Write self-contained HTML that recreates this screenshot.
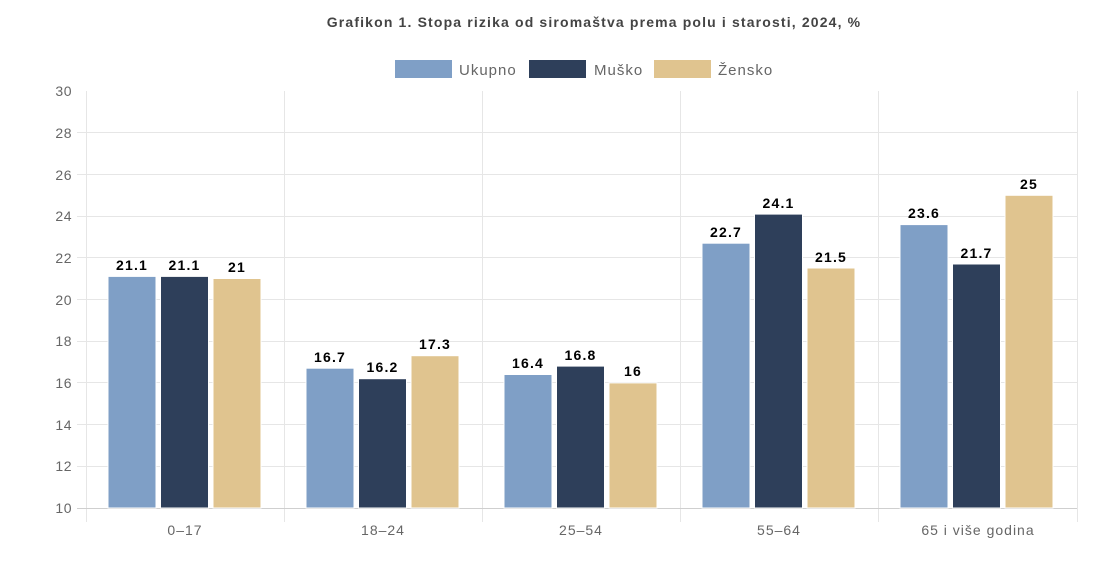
<!DOCTYPE html>
<html><head><meta charset="utf-8"><style>
html,body{margin:0;padding:0;background:#fff;}
svg{display:block;font-family:"Liberation Sans",Arial,sans-serif;}
</style></head><body>
<svg width="1113" height="570" viewBox="0 0 1113 570" xmlns="http://www.w3.org/2000/svg">
<text x="594" y="27" text-anchor="middle" font-size="14" font-weight="bold" fill="#444" letter-spacing="1.15">Grafikon 1. Stopa rizika od siromaštva prema polu i starosti, 2024, %</text>
<rect x="395" y="60" width="57" height="18" fill="#7f9fc6"/>
<text x="459" y="75" font-size="15" fill="#666" letter-spacing="1">Ukupno</text>
<rect x="529" y="60" width="57" height="18" fill="#2e3f5a"/>
<text x="594" y="75" font-size="15" fill="#666" letter-spacing="1">Muško</text>
<rect x="654" y="60" width="57" height="18" fill="#e0c48f"/>
<text x="718" y="75" font-size="15" fill="#666" letter-spacing="1">Žensko</text>
<g stroke="#e6e6e6" stroke-width="1">
<line x1="77" x2="1077" y1="132.5" y2="132.5"/>
<line x1="77" x2="1077" y1="174.5" y2="174.5"/>
<line x1="77" x2="1077" y1="216.5" y2="216.5"/>
<line x1="77" x2="1077" y1="257.5" y2="257.5"/>
<line x1="77" x2="1077" y1="299.5" y2="299.5"/>
<line x1="77" x2="1077" y1="341.5" y2="341.5"/>
<line x1="77" x2="1077" y1="382.5" y2="382.5"/>
<line x1="77" x2="1077" y1="424.5" y2="424.5"/>
<line x1="77" x2="1077" y1="466.5" y2="466.5"/>
<line x1="86.5" x2="86.5" y1="91" y2="522"/>
<line x1="284.5" x2="284.5" y1="91" y2="522"/>
<line x1="482.5" x2="482.5" y1="91" y2="522"/>
<line x1="680.5" x2="680.5" y1="91" y2="522"/>
<line x1="878.5" x2="878.5" y1="91" y2="522"/>
<line x1="1077.5" x2="1077.5" y1="91" y2="522"/>
</g>
<line x1="77" x2="1077" y1="508.5" y2="508.5" stroke="#cfcfcf"/>
<g font-size="14" fill="#666" text-anchor="end" letter-spacing="0.5">
<text x="72" y="96">30</text><text x="72" y="138">28</text><text x="72" y="180">26</text>
<text x="72" y="221">24</text><text x="72" y="263">22</text><text x="72" y="305">20</text>
<text x="72" y="346">18</text><text x="72" y="388">16</text><text x="72" y="430">14</text>
<text x="72" y="471">12</text><text x="72" y="513">10</text>
</g>
<g font-size="14" fill="#666" text-anchor="middle" letter-spacing="1">
<text x="185" y="535">0–17</text><text x="383" y="535">18–24</text><text x="581" y="535">25–54</text>
<text x="779" y="535">55–64</text><text x="978" y="535">65 i više godina</text>
</g>
<g stroke="#fff" stroke-width="1">
<rect x="108" y="276.4" width="48" height="231.6" fill="#7f9fc6"/>
<rect x="160.5" y="276.4" width="48" height="231.6" fill="#2e3f5a"/>
<rect x="213" y="278.5" width="48" height="229.5" fill="#e0c48f"/>
<rect x="306" y="368.2" width="48" height="139.8" fill="#7f9fc6"/>
<rect x="358.5" y="378.7" width="48" height="129.3" fill="#2e3f5a"/>
<rect x="411" y="355.7" width="48" height="152.3" fill="#e0c48f"/>
<rect x="504" y="374.5" width="48" height="133.5" fill="#7f9fc6"/>
<rect x="556.5" y="366.1" width="48" height="141.9" fill="#2e3f5a"/>
<rect x="609" y="382.9" width="48" height="125.1" fill="#e0c48f"/>
<rect x="702" y="243.2" width="48" height="264.8" fill="#7f9fc6"/>
<rect x="754.5" y="214.1" width="48" height="293.9" fill="#2e3f5a"/>
<rect x="807" y="268.0" width="48" height="240" fill="#e0c48f"/>
<rect x="900" y="224.6" width="48" height="283.4" fill="#7f9fc6"/>
<rect x="952.5" y="264.0" width="48" height="244" fill="#2e3f5a"/>
<rect x="1005" y="195.3" width="48" height="312.7" fill="#e0c48f"/>
</g>
<g font-size="14" font-weight="bold" fill="#000" text-anchor="middle" letter-spacing="1.2">
<text x="132" y="270">21.1</text><text x="184.5" y="270">21.1</text><text x="237" y="272">21</text>
<text x="330" y="362">16.7</text><text x="382.5" y="372">16.2</text><text x="435" y="349">17.3</text>
<text x="528" y="368">16.4</text><text x="580.5" y="360">16.8</text><text x="633" y="376">16</text>
<text x="726" y="237">22.7</text><text x="778.5" y="208">24.1</text><text x="831" y="262">21.5</text>
<text x="924" y="218">23.6</text><text x="976.5" y="258">21.7</text><text x="1029" y="189">25</text>
</g>
</svg>
</body></html>
